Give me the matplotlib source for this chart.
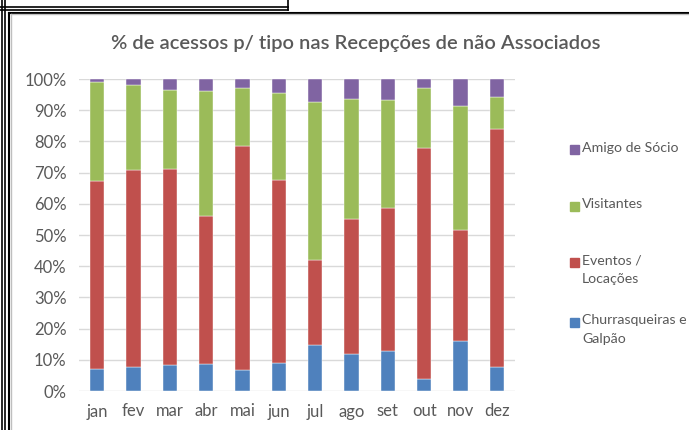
import matplotlib
matplotlib.use("Agg")
import numpy as np
from matplotlib import pyplot as plt
from matplotlib.lines import Line2D
from matplotlib.patches import Rectangle

plt.rcParams['font.family'] = ['Lato', 'DejaVu Sans']

months = ['jan', 'fev', 'mar', 'abr', 'mai', 'jun', 'jul', 'ago', 'set', 'out', 'nov', 'dez']

# shares in %
churrasqueiras = [6.9, 7.6, 8.4, 8.8, 6.7, 9.0, 14.7, 11.9, 12.7, 3.9, 16.0, 7.7]
eventos = [60.4, 63.2, 62.8, 47.4, 71.7, 58.5, 27.3, 43.2, 46.1, 74.0, 35.6, 76.4]
visitantes = [31.8, 27.2, 25.3, 40.0, 18.7, 28.0, 50.5, 38.4, 34.4, 19.2, 39.7, 10.2]
amigo = [0.9, 2.0, 3.5, 3.8, 2.9, 4.5, 7.5, 6.5, 6.8, 2.9, 8.7, 5.7]

series_names = ['Churrasqueiras e\nGalpão', 'Eventos /\nLocações', 'Visitantes', 'Amigo de Sócio']
series_colors = ['#4F81BD', '#C0504D', '#9BBB59', '#8064A2']

W, H = 689, 430
gray = '#595959'


def fx(x):
    return x / W


def fy(y):
    return 1 - y / H


fig = plt.figure(figsize=(W / 100, H / 100), dpi=100)
ax = fig.add_axes([fx(79), fy(391), (515 - 79) / W, (391 - 79) / H])

x = np.arange(len(months))
bottom = np.zeros(len(months))
for vals, col in zip([churrasqueiras, eventos, visitantes, amigo], series_colors):
    v = np.array(vals) / 100
    ax.bar(x, v, 0.39, bottom=bottom, color=col, edgecolor='white', linewidth=0.3, zorder=3)
    bottom += v

ax.set_xlim(-0.5, len(months) - 0.5)
ax.set_ylim(0, 1)
ax.set_yticks(np.arange(0, 1.01, 0.1))
ax.set_yticklabels([f'{int(round(t * 100))}%' for t in np.arange(0, 1.01, 0.1)])
ax.set_xticks(x)
ax.set_xticklabels(months)
ax.tick_params(axis='both', length=0, labelsize=12, colors=gray)
ax.tick_params(axis='y', pad=9)
ax.tick_params(axis='x', pad=9)
ax.grid(axis='y', color='#D9D9D9', linewidth=1, zorder=0)
for s in ax.spines.values():
    s.set_visible(False)

fig.text(fx(356), fy(44), '% de acessos p/ tipo nas Recepções de não Associados',
         ha='center', va='center', fontsize=14.5, color=gray, fontweight='semibold')

# legend drawn by hand, Excel style
leg_y = [322, 262, 206, 149]
for name, col, yy in zip(series_names, series_colors, leg_y):
    fig.add_artist(Rectangle((fx(570), fy(yy + 4.5)), 9 / W, 9 / H,
                             transform=fig.transFigure, color=col))
    fig.text(fx(582), fy(yy - 7.5), name, ha='left', va='top', fontsize=10.2,
             color=gray, linespacing=1.65)

# screenshot frame lines
frame = [
    ((0, 288), (6.5, 6.5), 'black', 1.2),
    ((0, 288), (9.5, 9.5), 'black', 1.2),
    ((288, 288), (0, 9.5), 'black', 1.2),
    ((1.5, 1.5), (0, 430), 'black', 1.2),
    ((4.5, 4.5), (0, 430), 'black', 1.2),
    ((8.5, 689), (12.5, 12.5), 'black', 1.5),
    ((10.5, 689), (14, 14), '#BFBFBF', 1),
    ((8.5, 8.5), (12.5, 430), 'black', 1.5),
    ((10.5, 10.5), (14, 430), '#BFBFBF', 1),
]
for xs, ys, c, lw in frame:
    fig.add_artist(Line2D([fx(v) for v in xs], [fy(v) for v in ys],
                          transform=fig.transFigure, color=c, linewidth=lw))

plt.savefig('out.png', dpi=100)
